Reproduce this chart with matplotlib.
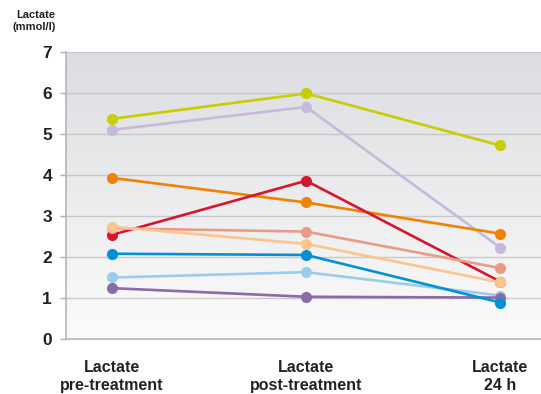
import matplotlib.pyplot as plt
import numpy as np

plt.rcParams['font.family'] = ['Liberation Sans', 'DejaVu Sans']

categories = ['Lactate\npre-treatment', 'Lactate\npost-treatment', 'Lactate\n24 h']

# lactate values (mmol/l) per patient: pre, post, 24 h
lavender = [5.10, 5.66, 2.23]
yellow = [5.37, 5.99, 4.72]
orange = [3.93, 3.33, 2.57]
red = [2.54, 3.86, 1.40]
salmon = [2.70, 2.62, 1.73]
peach = [2.74, 2.32, 1.38]
light_blue = [1.50, 1.63, 1.06]
purple = [1.24, 1.03, 1.01]
blue = [2.08, 2.05, 0.89]

series = [
    (lavender, '#c6b9da'),
    (yellow, '#c8cc00'),
    (orange, '#ef8200'),
    (red, '#d6152f'),
    (salmon, '#ea9b86'),
    (peach, '#fbc590'),
    (light_blue, '#9ecbea'),
    (purple, '#8b6aa8'),
    (blue, '#0091d5'),
]

fig = plt.figure(figsize=(5.41, 3.94), dpi=100)
ax = fig.add_axes([0.122, 0.1396, 0.878, 0.7284])

x = np.arange(len(categories))
xlim = (-0.237, 2.21)
ax.set_xlim(xlim)
ax.set_ylim(0, 7)

# soft grey-to-white gradient behind the plot
grad = np.linspace(0, 1, 256).reshape(-1, 1)
ax.imshow(grad, extent=[xlim[0], xlim[1], 0, 7], aspect='auto', origin='upper',
          cmap=plt.cm.colors.LinearSegmentedColormap.from_list('bg', ['#dcdde0', '#fbfbfb']),
          zorder=0)

for v in range(1, 8):
    ax.axhline(v, color='#c9c9c9', lw=1.0, zorder=1)

for vals, col in series:
    ax.plot(x, vals, color=col, lw=1.9, marker='o', markersize=8,
            markeredgewidth=0, zorder=3)

ax.set_yticks(range(0, 8))
ax.set_yticklabels([str(v) for v in range(0, 8)], fontsize=12.5, fontweight='bold',
                   color='#222222')
ax.tick_params(axis='y', length=4, width=1, color='#b0b0b0', pad=6)
ax.set_xticks(x)
ax.set_xticklabels(categories, fontsize=11.5, fontweight='bold', color='#222222',
                   linespacing=1.3)
ax.tick_params(axis='x', length=0, pad=15)

for side in ['top', 'right']:
    ax.spines[side].set_visible(False)
for side in ['left', 'bottom']:
    ax.spines[side].set_color('#b5b5b5')
    ax.spines[side].set_linewidth(1.2)

fig.text(0.103, 0.947, 'Lactate\n(mmol/l)', ha='right', va='center', fontsize=8,
         fontweight='bold', color='#222222', linespacing=1.3)

fig.savefig('out.png', dpi=100)
